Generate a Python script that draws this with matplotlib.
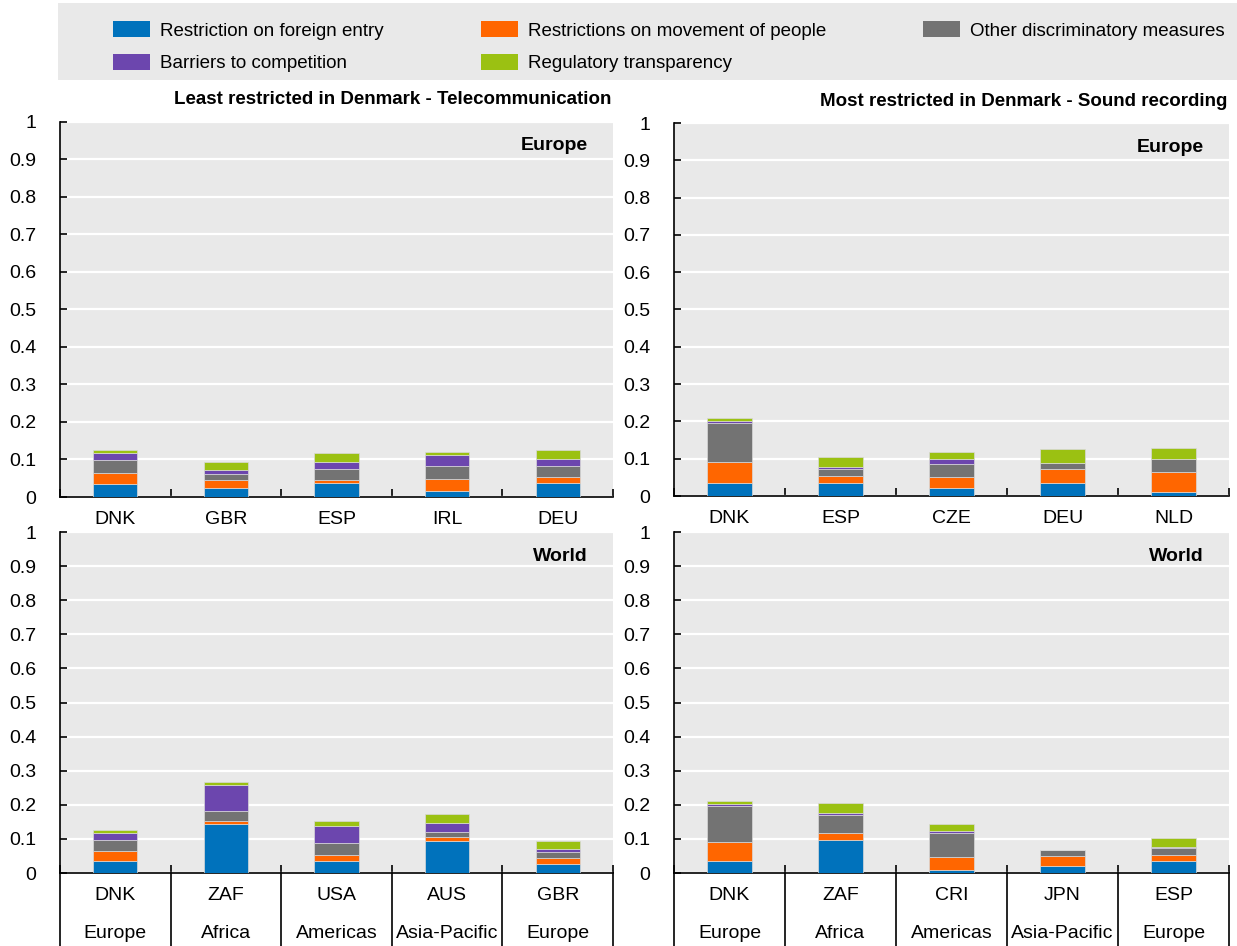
import numpy as np
import matplotlib
matplotlib.use("Agg")
import matplotlib.pyplot as plt
from matplotlib.patches import Patch, Rectangle

plt.rcParams['font.family'] = ['Liberation Sans', 'DejaVu Sans']
plt.rcParams['font.size'] = 14

series = ['Restriction on foreign entry', 'Restrictions on movement of people',
          'Other discriminatory measures', 'Barriers to competition',
          'Regulatory transparency']
colors = ['#0072BC', '#FF6600', '#737373', '#6C46AE', '#9BC112']

# telecom, Europe
tl_countries = ['DNK', 'GBR', 'ESP', 'IRL', 'DEU']
tl_foreign = [0.035, 0.025, 0.036, 0.017, 0.036]
tl_movement = [0.029, 0.020, 0.009, 0.032, 0.018]
tl_other = [0.034, 0.017, 0.029, 0.034, 0.029]
tl_barriers = [0.019, 0.009, 0.019, 0.028, 0.019]
tl_transp = [0.008, 0.023, 0.024, 0.008, 0.024]

# sound recording, Europe
tr_countries = ['DNK', 'ESP', 'CZE', 'DEU', 'NLD']
tr_foreign = [0.035, 0.035, 0.021, 0.035, 0.010]
tr_movement = [0.055, 0.019, 0.029, 0.038, 0.054]
tr_other = [0.106, 0.018, 0.035, 0.016, 0.036]
tr_barriers = [0.005, 0.006, 0.014, 0.0, 0.0]
tr_transp = [0.009, 0.027, 0.018, 0.038, 0.028]

# telecom, World
bl_countries = ['DNK', 'ZAF', 'USA', 'AUS', 'GBR']
bl_regions = ['Europe', 'Africa', 'Americas', 'Asia-Pacific', 'Europe']
bl_foreign = [0.035, 0.143, 0.034, 0.093, 0.025]
bl_movement = [0.029, 0.010, 0.020, 0.014, 0.020]
bl_other = [0.034, 0.028, 0.035, 0.013, 0.017]
bl_barriers = [0.019, 0.078, 0.048, 0.027, 0.009]
bl_transp = [0.008, 0.008, 0.016, 0.025, 0.023]

# sound recording, World
br_countries = ['DNK', 'ZAF', 'CRI', 'JPN', 'ESP']
br_regions = ['Europe', 'Africa', 'Americas', 'Asia-Pacific', 'Europe']
br_foreign = [0.035, 0.098, 0.008, 0.020, 0.035]
br_movement = [0.055, 0.019, 0.038, 0.030, 0.019]
br_other = [0.106, 0.053, 0.071, 0.018, 0.018]
br_barriers = [0.006, 0.007, 0.006, 0.0, 0.005]
br_transp = [0.009, 0.028, 0.020, 0.0, 0.027]

W, H = 1237, 946
fig = plt.figure(figsize=(W / 100, H / 100), dpi=100)


def px_axes(x0, x1, ytop, ybot):
    return fig.add_axes([x0 / W, 1 - ybot / H, (x1 - x0) / W, (ybot - ytop) / H])


def draw_panel(ax, countries, stacks, tag, regions=None, title=None):
    x = np.arange(len(countries))
    bottom = np.zeros(len(countries))
    for vals, c in zip(stacks, colors):
        ax.bar(x, vals, 0.4, bottom=bottom, color=c, edgecolor='#d9d9d9', linewidth=0.5, zorder=3)
        bottom += np.array(vals)
    ax.set_facecolor('#e9e9e9')
    ax.set_xlim(-0.5, len(countries) - 0.5)
    ax.set_ylim(0, 1)
    yt = np.round(np.arange(0, 1.01, 0.1), 1)
    ax.set_yticks(yt)
    ax.set_yticklabels(['0' if v == 0 else ('1' if v == 1 else f'{v:.1f}') for v in yt])
    ax.yaxis.grid(True, color='white', linewidth=1.6, zorder=0)
    ax.set_axisbelow(True)
    for s in ['top', 'right']:
        ax.spines[s].set_visible(False)
    ax.spines['left'].set_linewidth(1.2)
    ax.spines['bottom'].set_linewidth(1.2)
    ax.tick_params(axis='y', direction='in', length=5, width=1.2, pad=17, labelsize=14)
    ax.set_xticks(np.arange(len(countries) + 1) - 0.5)
    ax.set_xticklabels([])
    ax.tick_params(axis='x', which='major', direction='in', length=6, width=1.2)
    trans = ax.get_xaxis_transform()
    if regions is None:
        ax.set_xticks(x, minor=True)
        ax.set_xticklabels(countries, minor=True)
        ax.tick_params(axis='x', which='minor', length=0, pad=10, labelsize=14)
    else:
        hpx = ax.get_position().height * H
        for xi, c, r in zip(x, countries, regions):
            ax.text(xi, -22 / hpx, c, transform=trans, ha='center', va='center', fontsize=14)
            ax.text(xi, -60 / hpx, r, transform=trans, ha='center', va='center', fontsize=14)
        for b in np.arange(len(countries) + 1) - 0.5:
            ax.plot([b, b], [0, -0.3], transform=trans, color='black', lw=1.2, clip_on=False)
    ax.annotate(tag, xy=(1, 1), xycoords='axes fraction', xytext=(-25, -24),
                textcoords='offset pixels', ha='right', va='center',
                fontsize=14, fontweight='bold')
    if title:
        ax.annotate(title, xy=(1, 1), xycoords='axes fraction', xytext=(-2, 22),
                    textcoords='offset pixels', ha='right', va='center',
                    fontsize=13.5, fontweight='bold', annotation_clip=False)


ax1 = px_axes(60, 613, 122, 497)
ax2 = px_axes(674, 1229, 123, 496)
ax3 = px_axes(60, 613, 532, 873)
ax4 = px_axes(674, 1229, 532, 873)

draw_panel(ax1, tl_countries, [tl_foreign, tl_movement, tl_other, tl_barriers, tl_transp],
           'Europe', title='Least restricted in Denmark - Telecommunication')
draw_panel(ax2, tr_countries, [tr_foreign, tr_movement, tr_other, tr_barriers, tr_transp],
           'Europe', title='Most restricted in Denmark - Sound recording')
draw_panel(ax3, bl_countries, [bl_foreign, bl_movement, bl_other, bl_barriers, bl_transp],
           'World', regions=bl_regions)
draw_panel(ax4, br_countries, [br_foreign, br_movement, br_other, br_barriers, br_transp],
           'World', regions=br_regions)

# legend band
fig.patches.append(Rectangle((58 / W, 1 - 80 / H), (W - 58) / W, 77 / H,
                             transform=fig.transFigure, facecolor='#e9e9e9',
                             edgecolor='none', zorder=0))
order = [0, 3, 1, 4, 2]
handles = [Patch(facecolor=colors[i], edgecolor='none') for i in order]
labels = [series[i] for i in order]
lfs = 13.5
fs_px = lfs * 100 / 72
fig.legend(handles, labels, ncol=3, loc='upper left',
           bbox_to_anchor=(113 / W, 1 - 21 / H), frameon=False, borderpad=0,
           borderaxespad=0, handlelength=37 / fs_px, handleheight=18 / fs_px,
           handletextpad=10 / fs_px, columnspacing=97 / fs_px,
           labelspacing=0.75, fontsize=lfs)

fig.savefig('out.png', dpi=100)
